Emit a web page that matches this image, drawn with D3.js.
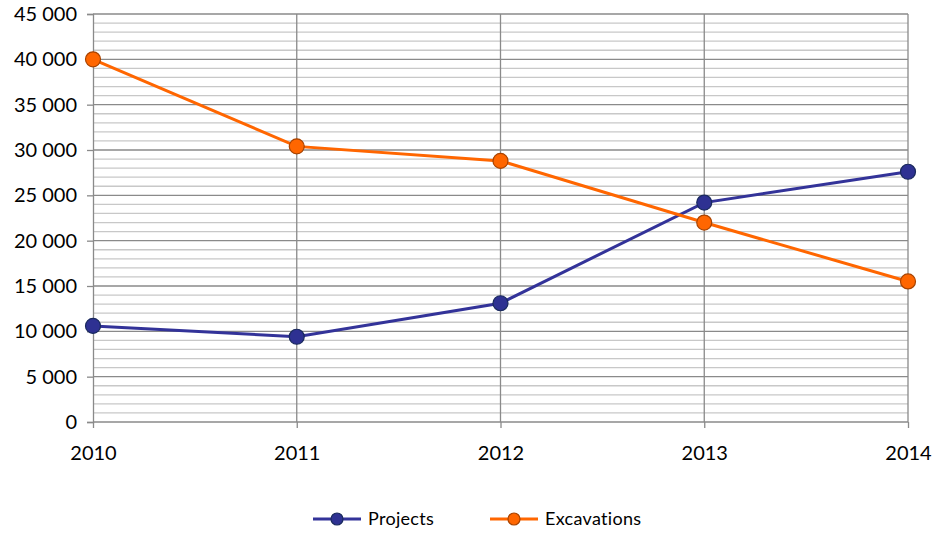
<!DOCTYPE html>
<html>
<head>
<meta charset="utf-8">
<script src="https://cdn.jsdelivr.net/npm/d3@7"></script>
<style>
  html, body { margin: 0; padding: 0; background: #fff; }
  svg { display: block; }
  text { font-family: Lato, "Open Sans", sans-serif; fill: #000; }
</style>
</head>
<body>
<svg id="chart" width="935" height="535"></svg>
<script>
// Yearly counts for the two series
const years = [2010, 2011, 2012, 2013, 2014];
const projects = [10600, 9400, 13100, 24200, 27600];
const excavations = [40000, 30400, 28800, 22000, 15500];
const yTicks = [0, 5000, 10000, 15000, 20000, 25000, 30000, 35000, 40000, 45000];

const seriesList = [
  { name: "Projects", values: projects, line: "#333399", fill: "#2E3192", stroke: "#1A2A5E" },
  { name: "Excavations", values: excavations, line: "#FF6600", fill: "#FF6600", stroke: "#A84300" }
];

const svg = d3.select("#chart");
const margin = { left: 93, right: 27, top: 14, bottom: 113 };
const W = 935, H = 535;

const x = d3.scalePoint().domain(years).range([margin.left, W - margin.right]);
const y = d3.scaleLinear().domain([0, 45000]).range([H - margin.bottom, margin.top]);

const fmt = v => d3.format(",")(v).replace(/,/g, " ");

// minor gridlines every 1000
const minor = d3.range(1000, 45000, 1000).filter(v => v % 5000 !== 0);
svg.append("g").selectAll("line").data(minor).join("line")
  .attr("x1", margin.left).attr("x2", W - margin.right)
  .attr("y1", d => y(d)).attr("y2", d => y(d))
  .attr("stroke", "#c8c8c8").attr("stroke-width", 1.3);

// major gridlines
svg.append("g").selectAll("line").data(yTicks.filter(v => v > 0)).join("line")
  .attr("x1", margin.left).attr("x2", W - margin.right)
  .attr("y1", d => y(d)).attr("y2", d => y(d))
  .attr("stroke", "#8a8a8a").attr("stroke-width", 1.3);

// vertical gridlines
svg.append("g").selectAll("line").data(years.slice(1)).join("line")
  .attr("x1", d => x(d)).attr("x2", d => x(d))
  .attr("y1", margin.top).attr("y2", y(0))
  .attr("stroke", "#8a8a8a").attr("stroke-width", 1.3);

// y axis
const yAxis = svg.append("g").attr("transform", `translate(${margin.left},0)`)
  .call(d3.axisLeft(y).tickValues(yTicks).tickFormat(fmt).tickSize(6).tickPadding(10));
yAxis.selectAll("path, line").attr("stroke", "#8a8a8a").attr("stroke-width", 1.3);
yAxis.selectAll("text").style("font-size", "20px").attr("fill", "#000");

// x axis
const xAxis = svg.append("g").attr("transform", `translate(0,${y(0)})`)
  .call(d3.axisBottom(x).tickSize(6).tickPadding(18).tickFormat(d3.format("d")));
xAxis.select("path").attr("d", `M${margin.left},0H${W - margin.right}`);
xAxis.selectAll("path, line").attr("stroke", "#8a8a8a").attr("stroke-width", 1.3);
xAxis.selectAll("text").style("font-size", "20px").attr("fill", "#000");

// series lines and markers
const line = d3.line().x((d, i) => x(years[i])).y(d => y(d));
seriesList.forEach(s => {
  svg.append("path").datum(s.values)
    .attr("d", line).attr("fill", "none")
    .attr("stroke", s.line).attr("stroke-width", 3);
});
seriesList.forEach(s => {
  svg.append("g").selectAll("circle").data(s.values).join("circle")
    .attr("cx", (d, i) => x(years[i])).attr("cy", d => y(d)).attr("r", 7.5)
    .attr("fill", s.fill).attr("stroke", s.stroke).attr("stroke-width", 1.2);
});

// legend
const legendPos = [313, 490];
const legend = svg.append("g");
seriesList.forEach((s, i) => {
  const g = legend.append("g").attr("transform", `translate(${legendPos[i]},519)`);
  g.append("line").attr("x1", 0).attr("x2", 48).attr("y1", 0).attr("y2", 0)
    .attr("stroke", s.line).attr("stroke-width", 3);
  g.append("circle").attr("cx", 24).attr("cy", 0).attr("r", 6)
    .attr("fill", s.fill).attr("stroke", s.stroke).attr("stroke-width", 1.2);
  g.append("text").attr("x", 55).attr("y", 0).attr("dy", "0.35em")
    .style("font-size", "18px").style("letter-spacing", "0.3px").text(s.name);
});
</script>
</body>
</html>
